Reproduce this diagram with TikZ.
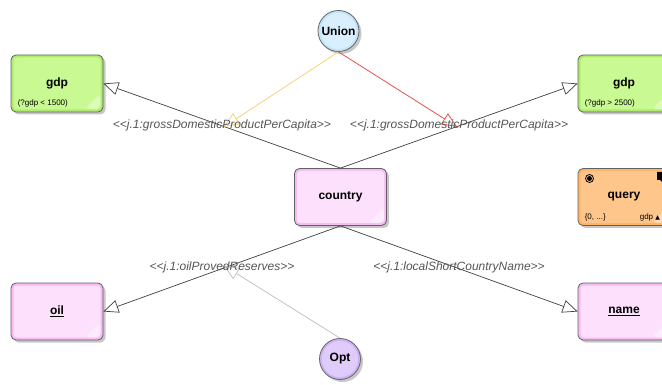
\documentclass[tikz,border=0pt]{standalone}
\usepackage{fontspec}
\setmainfont{Liberation Sans}
\newfontfamily\symfont{DejaVu Sans}
\usetikzlibrary{arrows.meta,shadows}

\definecolor{greenband}{HTML}{B0EC6C}
\definecolor{greenfill}{HTML}{C8F992}
\definecolor{pinkband}{HTML}{F5BCF5}
\definecolor{pinkfill}{HTML}{FCE0FC}
\definecolor{orangeband}{HTML}{FFB466}
\definecolor{orangefill}{HTML}{FFC68C}
\definecolor{unionband}{HTML}{C4E4FA}
\definecolor{unionfill}{HTML}{DAEFFD}
\definecolor{optband}{HTML}{CDB2F6}
\definecolor{optfill}{HTML}{E0CCFB}
\definecolor{edgegray}{HTML}{404040}
\definecolor{labelgray}{HTML}{555555}
\definecolor{unionyellow}{HTML}{F2D47A}
\definecolor{unionred}{HTML}{E8524C}
\definecolor{optgray}{HTML}{C4C4C4}

% lighter inner panel and folded corner of a class box
\newcommand\boxinner[1]{%
  \fill[#1, rounded corners=3.5pt]
    ([shift={(2.5pt,-2.5pt)}]path picture bounding box.north west) rectangle
    ([shift={(-2.5pt,2.5pt)}]path picture bounding box.south east);
  \fill[white, opacity=0.35]
    ([shift={(-2.5pt,2.5pt)}]path picture bounding box.south east)
    -- ++(-16pt,0pt) -- ++(16pt,16pt) -- cycle;}
% lighter inner disc of a round operator node
\newcommand\discinner[1]{%
  \fill[#1] (path picture bounding box.center) circle[radius=18pt];}
% stereotype brackets, kept apart from the guillemet ligature
\newcommand\stereo[1]{<{}<#1>{}>}

\tikzset{
  shadowed/.style={drop shadow={shadow xshift=2.5pt, shadow yshift=-2.5pt,
      opacity=0.22, fill=black}},
  classbox/.style={draw=black!62, line width=0.8pt, rounded corners=5pt,
    minimum width=92pt, minimum height=57pt, inner sep=0pt, shadowed,
    font=\bfseries\fontsize{12}{14}\selectfont},
  greenbox/.style={classbox, fill=greenband, path picture={\boxinner{greenfill}}},
  pinkbox/.style={classbox, fill=pinkband, path picture={\boxinner{pinkfill}}},
  orangebox/.style={classbox, fill=orangeband, path picture={\boxinner{orangefill}}},
  opnode/.style={circle, draw=black!60, line width=0.8pt, minimum size=41pt,
    inner sep=0pt, shadowed, font=\bfseries\fontsize{12}{14}\selectfont},
  subtext/.style={inner sep=0pt, font=\fontsize{8}{9.5}\selectfont},
  edge/.style={draw=edgegray, line width=0.7pt,
    -{Triangle[open, length=15pt, width=13pt]}},
  opedge/.style={line width=0.8pt,
    -{Triangle[open, length=15pt, width=13pt]}},
  proplabel/.style={inner sep=0pt, text=labelgray,
    font=\itshape\fontsize{12}{14}\selectfont},
}

\begin{document}
\begin{tikzpicture}[x=1pt,y=-1pt]
\useasboundingbox (0,0) rectangle (662,385);
\fill[white] (0,0) rectangle (662,385);
\clip (0,0) rectangle (662,385);

% class nodes
\node[greenbox]  (gdpL)    at (57,83.5)   {gdp};
\node[greenbox]  (gdpR)    at (624,83.5)  {gdp};
\node[orangebox] (query)   at (624,197)   {query};
\node[pinkbox]   (country) at (340.5,197) {country};
\node[pinkbox]   (oil)     at (57,311.5)  {\underline{oil}};
\node[pinkbox]   (name)    at (624,311.5) {\underline{name}};

% operator nodes
\node[opnode, fill=unionband, path picture={\discinner{unionfill}}] (union) at (338.5,31) {Union};
\node[opnode, fill=optband, path picture={\discinner{optfill}}] (opt) at (340,359) {Opt};

% filters and cardinality
\node[subtext, anchor=south west] (gdpLsub) at ([shift={(7pt,5pt)}]gdpL.south west) {(?gdp < 1500)};
\node[subtext, anchor=south west] (gdpRsub) at ([shift={(7pt,5pt)}]gdpR.south west) {(?gdp > 2500)};
\node[subtext, anchor=south west] (querycard) at ([shift={(7pt,5pt)}]query.south west) {\{0, ...\}};
\node[subtext, anchor=south west] (querysort) at ([shift={(62pt,5pt)}]query.south west) {gdp {\symfont\fontsize{6}{7}\selectfont▲}};
\node[circle, draw=black, line width=0.8pt, minimum size=8pt, inner sep=0pt] (queryring) at (589.5,178.5) {};
\node[circle, fill=black, minimum size=5pt, inner sep=0pt] (querydot) at (queryring) {};
\fill[black] (657,172) -- (663,172) -- (663,183) -- (660,180) -- (657,180) -- cycle;

% property connectors
\draw[edge] (country.north) -- (gdpL.east) coordinate[pos=0.5] (midL);
\draw[edge] (country.north) -- (gdpR.west) coordinate[pos=0.5] (midR);
\draw[edge] (country.south) -- (oil.east) coordinate[pos=0.5] (midO);
\draw[edge] (country.south) -- (name.west) coordinate[pos=0.5] (midN);

% operator connectors
\draw[opedge, draw=unionyellow] (union.south) -- ([shift={(2pt,-1pt)}]midL);
\draw[opedge, draw=unionred] (union.south) -- ([shift={(-2pt,-1pt)}]midR);
\draw[opedge, draw=optgray] (opt.north) -- ([shift={(2pt,3pt)}]midO);

% property labels
\node[proplabel] (labL) at (midL) {\stereo{j.1:grossDomesticProductPerCapita}};
\node[proplabel] (labR) at (midR) {\stereo{j.1:grossDomesticProductPerCapita}};
\node[proplabel] (labO) at ([shift={(0pt,1.5pt)}]midO) {\stereo{j.1:oilProvedReserves}};
\node[proplabel] (labN) at ([shift={(0pt,1.5pt)}]midN) {\stereo{j.1:localShortCountryName}};
\end{tikzpicture}
\end{document}
